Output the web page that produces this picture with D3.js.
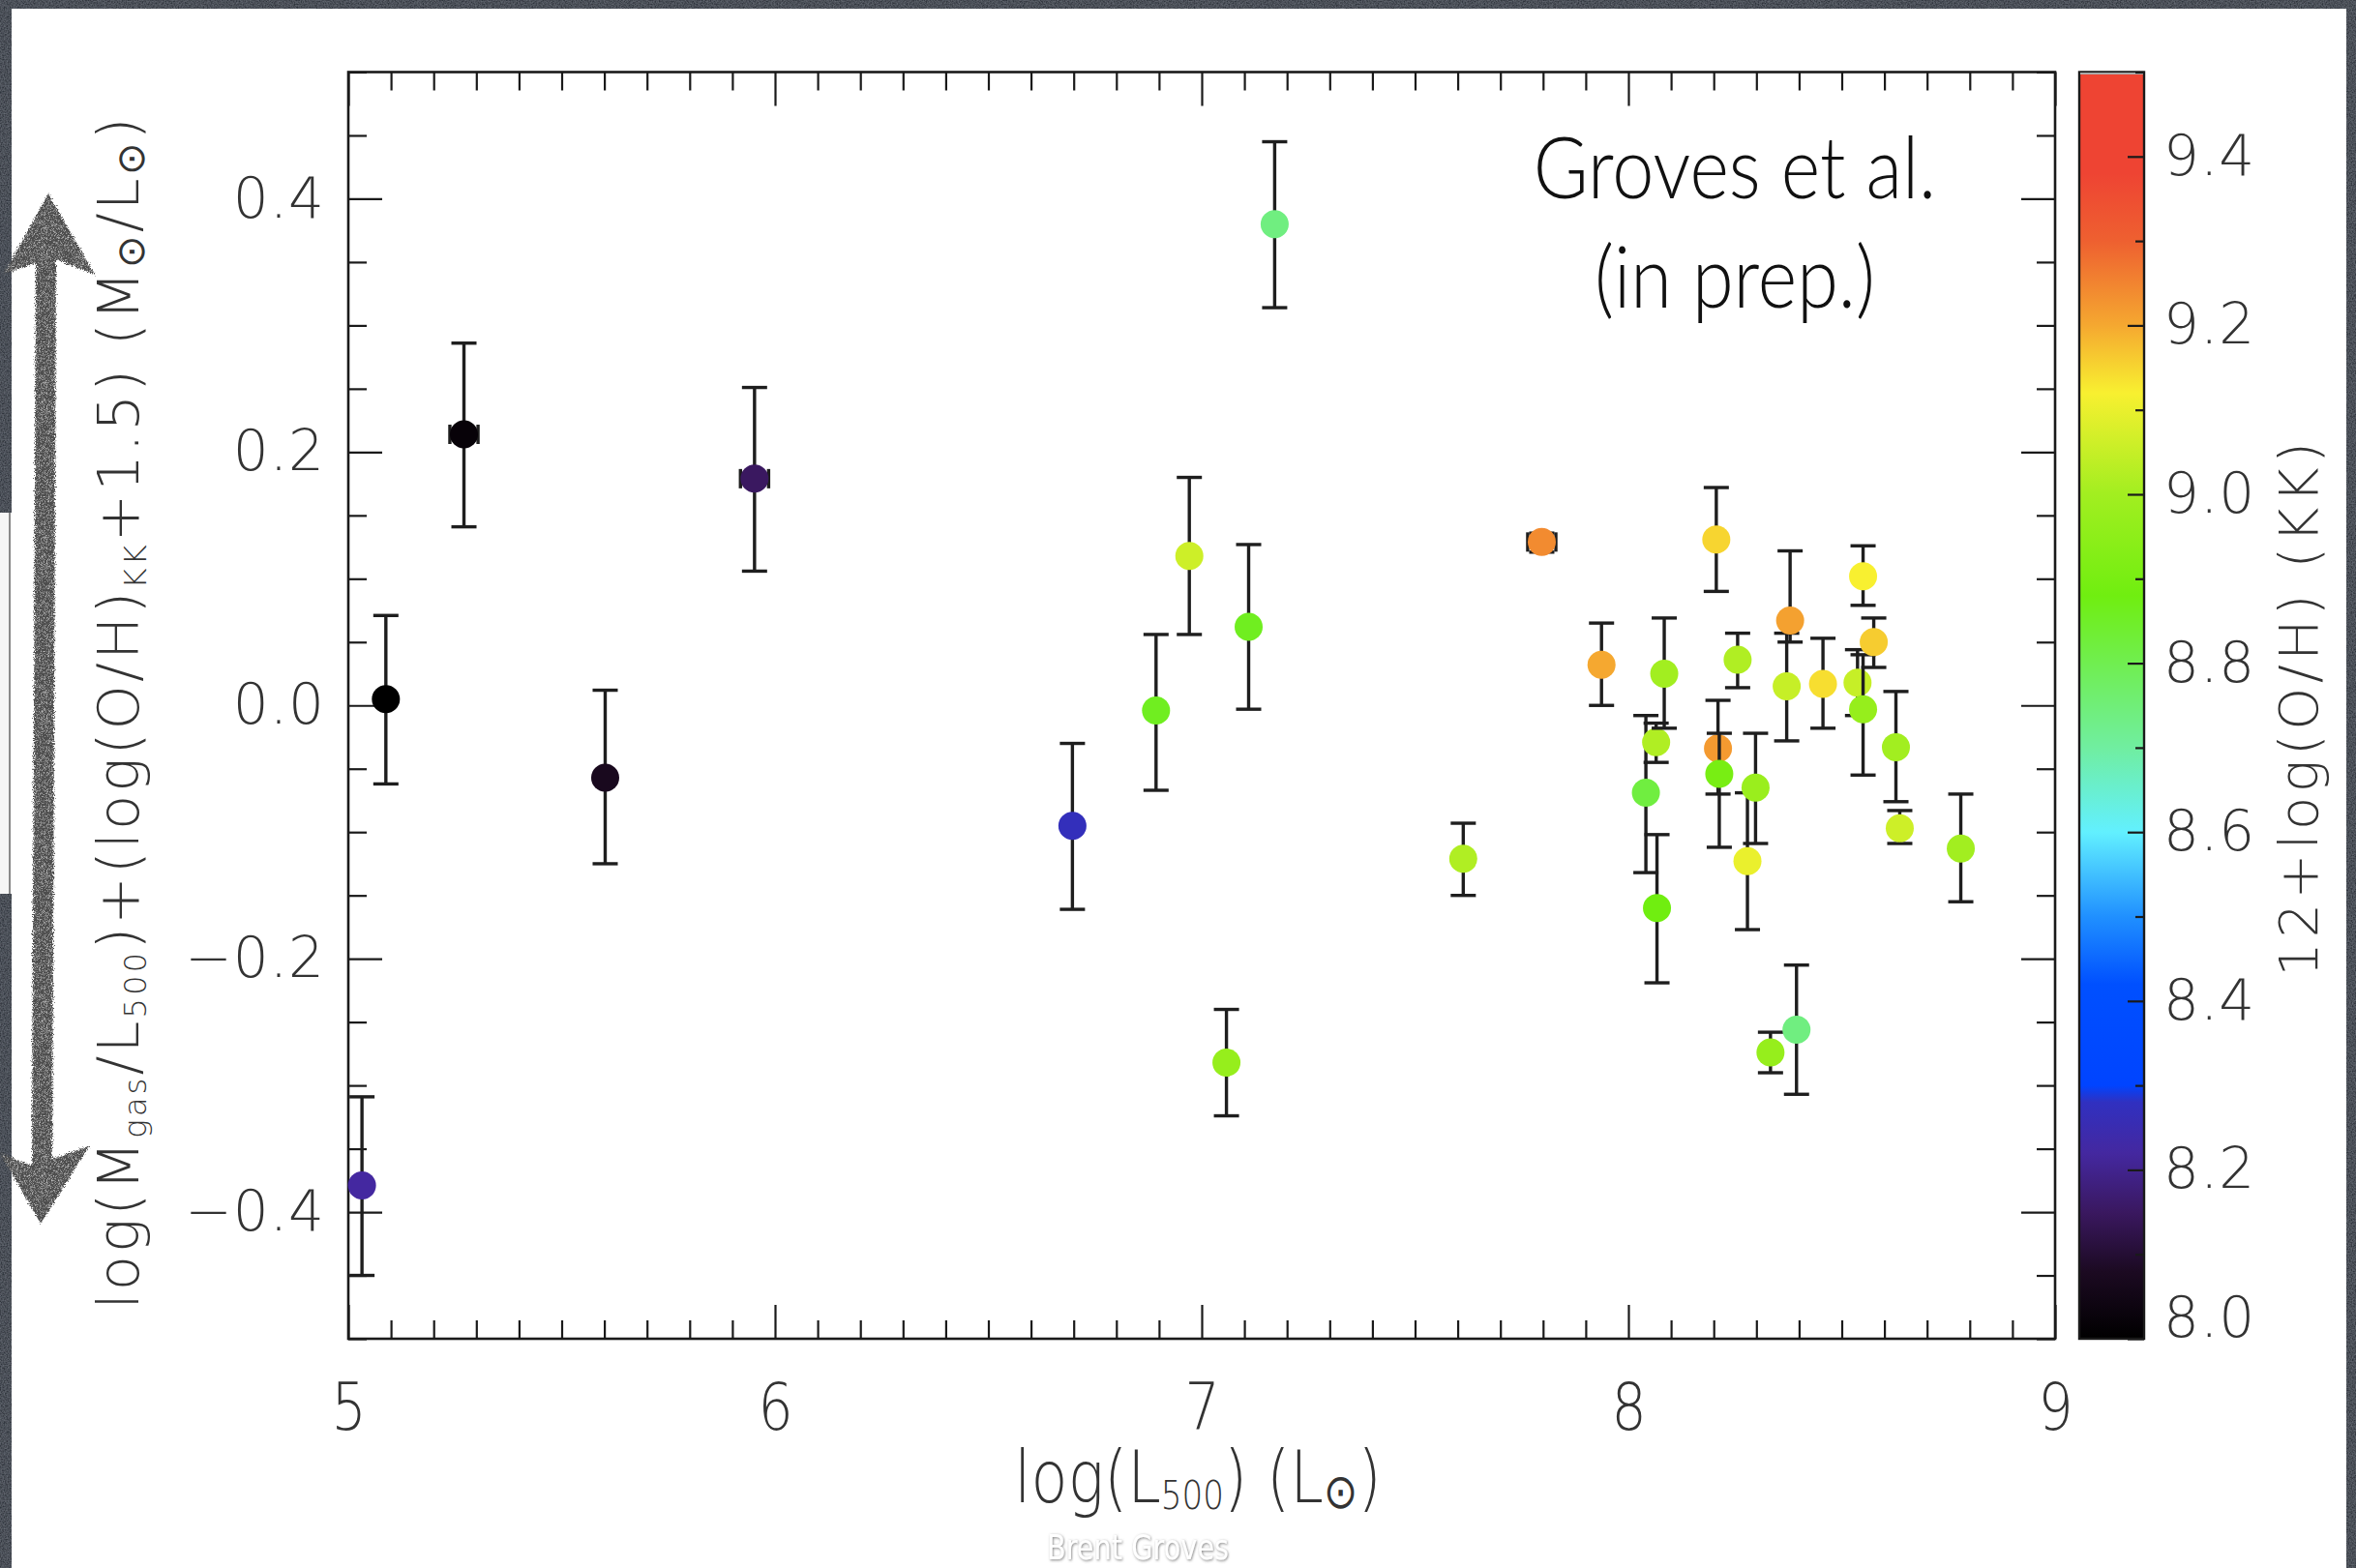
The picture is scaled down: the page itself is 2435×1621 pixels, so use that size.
<!DOCTYPE html>
<html><head><meta charset="utf-8">
<script src="https://cdn.jsdelivr.net/npm/d3@7"></script>
<style>html,body{margin:0;padding:0;background:#2e333b;overflow:hidden}</style>
</head><body>
<svg id="chart" width="2435" height="1621"></svg>
<script>
// ---------------- data ----------------
const xLum  = [5.032, 5.088, 5.271, 5.602, 5.952, 6.697, 6.893, 6.971, 7.058, 7.110, 7.171, 7.613,
               7.797, 7.937, 8.041, 8.065, 8.067, 8.084, 8.206, 8.210, 8.213, 8.256, 8.279, 8.298,
               8.333, 8.371, 8.379, 8.394, 8.456, 8.537, 8.550, 8.550, 8.575, 8.627, 8.636, 8.779];
const yVal  = [-0.379, 0.005, 0.214, -0.057, 0.179, -0.095, -0.004, 0.118, -0.282, 0.062, 0.380, -0.121,
               0.129, 0.032, -0.069, -0.029, -0.160, 0.025, 0.131, -0.034, -0.054, 0.036, -0.123, -0.065,
               -0.274, 0.015, 0.067, -0.256, 0.017, 0.018, 0.102, -0.003, 0.050, -0.033, -0.097, -0.113];
const yLow  = [-0.450, -0.062, 0.141, -0.125, 0.106, -0.161, -0.067, 0.056, -0.324, -0.003, 0.314, -0.150,
               0.121, 0.000, -0.132, -0.045, -0.219, -0.018, 0.090, -0.070, -0.112, 0.014, -0.177, -0.109,
               -0.290, -0.028, 0.050, -0.307, -0.018, -0.008, 0.079, -0.055, 0.030, -0.076, -0.109, -0.155];
const yHigh = [-0.309, 0.071, 0.286, 0.012, 0.251, -0.030, 0.056, 0.180, -0.240, 0.127, 0.445, -0.093,
               0.136, 0.065, -0.008, -0.014, -0.102, 0.069, 0.172, 0.004, -0.022, 0.057, -0.069, -0.022,
               -0.258, 0.057, 0.122, -0.205, 0.053, 0.044, 0.126, 0.040, 0.069, 0.011, -0.083, -0.070];
const xErr  = [0, 0, 0.033, 0, 0.033, 0, 0, 0, 0, 0, 0, 0,
               0.033, 0, 0, 0, 0, 0, 0, 0, 0, 0, 0, 0,
               0, 0, 0, 0, 0, 0, 0, 0, 0, 0, 0, 0];
const ohKK  = [8.22, 8.00, 8.02, 8.07, 8.15, 8.27, 8.86, 9.06, 8.97, 8.86, 8.74, 9.02,
               9.24, 9.20, 8.82, 9.02, 8.88, 9.00, 9.15, 9.22, 8.90, 9.02, 9.10, 8.98,
               8.97, 9.05, 9.21, 8.74, 9.14, 9.05, 9.12, 8.97, 9.16, 9.00, 9.06, 9.00];

const xTickLabels  = [5, 6, 7, 8, 9];
const yTickLabels  = [-0.4, -0.2, 0.0, 0.2, 0.4];
const cbTickLabels = [8.0, 8.2, 8.4, 8.6, 8.8, 9.0, 9.2, 9.4];

// colour table of the colour bar
const cmapZ     = [8.00, 8.08, 8.15, 8.22, 8.28, 8.30, 8.42, 8.50, 8.60, 8.70, 8.80, 8.88, 9.00, 9.12, 9.20, 9.30, 9.38, 9.50];
const cmapColor = ["#000000", "#1c0a22", "#3a1860", "#4428a0", "#3030c0", "#0044ff", "#0050ff", "#2090ff",
                   "#62f0ff", "#70eea0", "#70ee50", "#70ee10", "#a2ee20", "#f8f030", "#f5a830", "#ee6030",
                   "#ee4433", "#ee4433"];

// ---------------- layout ----------------
const W = 2435, H = 1621;
const P = {left: 360, right: 2124, top: 74.5, bottom: 1384};
const CB = {left: 2149, right: 2216};
const IDL_FONT = "'DejaVu Sans', sans-serif";

const svg = d3.select("#chart");
const defs = svg.append("defs");

// textures
const fN = defs.append("filter").attr("id", "slate").attr("x", 0).attr("y", 0).attr("width", 1).attr("height", 1);
fN.append("feTurbulence").attr("type", "fractalNoise").attr("baseFrequency", 0.7).attr("numOctaves", 2).attr("seed", 3).attr("result", "n");
fN.append("feColorMatrix").attr("in", "n").attr("type", "matrix")
  .attr("values", "0 0 0 0 0.20  0 0 0 0 0.22  0 0 0 0 0.26  0 0 0 0.9 -0.2").attr("result", "c");
fN.append("feComposite").attr("in", "c").attr("in2", "SourceGraphic").attr("operator", "over");

const fC = defs.append("filter").attr("id", "chalk").attr("x", -0.3).attr("y", -0.05).attr("width", 1.6).attr("height", 1.1);
fC.append("feTurbulence").attr("type", "fractalNoise").attr("baseFrequency", 0.9).attr("numOctaves", 2).attr("seed", 7).attr("result", "t");
fC.append("feDisplacementMap").attr("in", "SourceGraphic").attr("in2", "t").attr("scale", 7).attr("xChannelSelector", "R").attr("yChannelSelector", "G").attr("result", "d");
fC.append("feTurbulence").attr("type", "fractalNoise").attr("baseFrequency", 1.6).attr("numOctaves", 1).attr("seed", 2).attr("result", "s");
fC.append("feColorMatrix").attr("in", "s").attr("type", "matrix")
  .attr("values", "0 0 0 0 0.62  0 0 0 0 0.62  0 0 0 0 0.62  0 0 0 -2.6 1.35").attr("result", "spk");
fC.append("feComposite").attr("in", "spk").attr("in2", "d").attr("operator", "in").attr("result", "spk2");
const fm = fC.append("feMerge");
fm.append("feMergeNode").attr("in", "d");
fm.append("feMergeNode").attr("in", "spk2");

const fW = defs.append("filter").attr("id", "wm");
fW.append("feDropShadow").attr("dx", 1).attr("dy", 1).attr("stdDeviation", 1.5).attr("flood-color", "#777").attr("flood-opacity", 0.9);

// slide background
svg.append("rect").attr("width", W).attr("height", H).attr("fill", "#2f343c").attr("filter", "url(#slate)");
svg.append("rect").attr("x", 12).attr("y", 9).attr("width", 2413).attr("height", H - 9).attr("fill", "#ffffff");
svg.append("rect").attr("x", 0).attr("y", 530).attr("width", 12).attr("height", 394).attr("fill", "#f6f6f6");
svg.append("line").attr("x1", 10).attr("x2", 10).attr("y1", 530).attr("y2", 924).attr("stroke", "#666").attr("stroke-width", 1.5);

// ---------------- scales ----------------
const x = d3.scaleLinear().domain([5, 9]).range([P.left, P.right]);
const y = d3.scaleLinear().domain([-0.5, 0.5]).range([P.bottom, P.top]);
const cy = d3.scaleLinear().domain([8.0, 9.5]).range([P.bottom, P.top]);
const color = d3.scaleLinear().domain(cmapZ).range(cmapColor).interpolate(d3.interpolateRgb).clamp(true);

const fmt1 = d3.format(".1f");
const fmt0 = d3.format("d");

function styleAxis(g, sw) {
  g.select(".domain").remove();
  g.selectAll("line").attr("stroke", "#1a1a1a").attr("stroke-width", sw);
}

// minor / major ticks
const xMinor = d3.range(5, 9.0001, 0.1).filter(v => Math.abs(v - Math.round(v)) > 1e-6);
const yMinor = d3.range(-0.5, 0.5001, 0.05).filter(v => Math.abs(v * 5 - Math.round(v * 5)) > 1e-6);
const cbMinor = d3.range(8.1, 9.5001, 0.2);

const gAx = svg.append("g");
// bottom
gAx.append("g").attr("transform", `translate(0,${P.bottom})`)
  .call(d3.axisBottom(x).tickValues(xMinor).tickSize(-19).tickFormat(""))
  .call(g => styleAxis(g, 2.2));
const gxb = gAx.append("g").attr("transform", `translate(0,${P.bottom})`)
  .call(d3.axisBottom(x).tickValues(xTickLabels).tickSize(-35).tickPadding(46).tickFormat(fmt0))
  .call(g => styleAxis(g, 2.2));
gxb.selectAll("text").attr("font-family", IDL_FONT).attr("font-size", 67).attr("font-weight", 200)
  .attr("fill", "#333").attr("transform", "scale(0.85,1)");
// top
gAx.append("g").attr("transform", `translate(0,${P.top})`)
  .call(d3.axisTop(x).tickValues(xMinor).tickSize(-19).tickFormat(""))
  .call(g => styleAxis(g, 2.2));
gAx.append("g").attr("transform", `translate(0,${P.top})`)
  .call(d3.axisTop(x).tickValues(xTickLabels).tickSize(-35).tickFormat(""))
  .call(g => styleAxis(g, 2.2));
// left
gAx.append("g").attr("transform", `translate(${P.left},0)`)
  .call(d3.axisLeft(y).tickValues(yMinor).tickSize(-19).tickFormat(""))
  .call(g => styleAxis(g, 2.2));
const gyl = gAx.append("g").attr("transform", `translate(${P.left},0)`)
  .call(d3.axisLeft(y).tickValues(yTickLabels).tickSize(-35).tickPadding(24).tickFormat(fmt1))
  .call(g => styleAxis(g, 2.2));
gyl.selectAll("text").attr("font-family", IDL_FONT).attr("font-size", 58).attr("font-weight", 200)
  .attr("fill", "#333").attr("letter-spacing", 1);
// right
gAx.append("g").attr("transform", `translate(${P.right},0)`)
  .call(d3.axisRight(y).tickValues(yMinor).tickSize(-19).tickFormat(""))
  .call(g => styleAxis(g, 2.2));
gAx.append("g").attr("transform", `translate(${P.right},0)`)
  .call(d3.axisRight(y).tickValues(yTickLabels).tickSize(-35).tickFormat(""))
  .call(g => styleAxis(g, 2.2));

// frame
svg.append("rect").attr("x", P.left).attr("y", P.top).attr("width", P.right - P.left).attr("height", P.bottom - P.top)
  .attr("fill", "none").attr("stroke", "#1a1a1a").attr("stroke-width", 2.6);

// ---------------- data marks ----------------
const data = xLum.map((v, i) => ({x: v, y: yVal[i], lo: yLow[i], hi: yHigh[i], xe: xErr[i], z: ohKK[i]}));
const CAP = 13;
const gPts = svg.append("g");
data.forEach(d => {
  const g = gPts.append("g");
  const px = x(d.x);
  g.append("line").attr("x1", px).attr("x2", px).attr("y1", y(d.lo)).attr("y2", y(d.hi));
  g.append("line").attr("x1", px - CAP).attr("x2", px + CAP).attr("y1", y(d.lo)).attr("y2", y(d.lo));
  g.append("line").attr("x1", px - CAP).attr("x2", px + CAP).attr("y1", y(d.hi)).attr("y2", y(d.hi));
  if (d.xe > 0) {
    const py = y(d.y);
    g.append("line").attr("x1", x(d.x - d.xe)).attr("x2", x(d.x + d.xe)).attr("y1", py).attr("y2", py);
    g.append("line").attr("x1", x(d.x - d.xe)).attr("x2", x(d.x - d.xe)).attr("y1", py - 10).attr("y2", py + 10);
    g.append("line").attr("x1", x(d.x + d.xe)).attr("x2", x(d.x + d.xe)).attr("y1", py - 10).attr("y2", py + 10);
  }
  g.selectAll("line").attr("stroke", "#1e1e1e").attr("stroke-width", 3.4);
  g.append("circle").attr("cx", px).attr("cy", y(d.y)).attr("r", 14.5).attr("fill", color(d.z));
});

// ---------------- colour bar ----------------
const grad = defs.append("linearGradient").attr("id", "cbar").attr("x1", 0).attr("y1", 1).attr("x2", 0).attr("y2", 0);
cmapZ.forEach((z, i) => grad.append("stop").attr("offset", (z - 8.0) / 1.5).attr("stop-color", cmapColor[i]));
svg.append("rect").attr("x", CB.left).attr("y", P.top).attr("width", CB.right - CB.left).attr("height", P.bottom - P.top)
  .attr("fill", "url(#cbar)").attr("stroke", "#1a1a1a").attr("stroke-width", 2.4);
svg.append("line").attr("x1", CB.left + 1).attr("x2", CB.right - 1).attr("y1", P.top + 1.5).attr("y2", P.top + 1.5)
  .attr("stroke", "#aaa").attr("stroke-width", 2);
svg.append("g").attr("transform", `translate(${CB.right},0)`)
  .call(d3.axisRight(cy).tickValues(cbMinor).tickSize(-9).tickFormat(""))
  .call(g => styleAxis(g, 2.2));
const gcb = svg.append("g").attr("transform", `translate(${CB.right},0)`)
  .call(d3.axisRight(cy).tickValues(cbTickLabels).tickSize(-17).tickPadding(20).tickFormat(fmt1))
  .call(g => styleAxis(g, 2.2));
gcb.selectAll("text").attr("font-family", IDL_FONT).attr("font-size", 58).attr("font-weight", 200)
  .attr("fill", "#333").attr("letter-spacing", 1)
  .attr("dy", d => d === 8.0 ? "-0.05em" : "0.32em");

// ---------------- titles ----------------
// parts: plain strings or {s, dy, k} subscripts; the baseline is restored on the following tspan
function richText(sel, parts) {
  let pending = 0;
  parts.forEach(p => {
    if (typeof p === "string") {
      const t = sel.append("tspan").text(p);
      if (pending) t.attr("dy", pending + "em");
      pending = 0;
    } else {
      sel.append("tspan").attr("font-size", p.k + "em").attr("dy", (p.dy / p.k) + "em").text(p.s);
      pending = -p.dy;
    }
  });
}

// y axis title
const yt = svg.append("text").attr("transform", "translate(143,736) rotate(-90)")
  .attr("text-anchor", "middle").attr("font-family", IDL_FONT).attr("font-size", 59).attr("font-weight", 200)
  .attr("fill", "#333").attr("letter-spacing", 3);
richText(yt, ["log(M", {s: "gas", dy: 0.14, k: 0.55}, "/L", {s: "500", dy: 0.14, k: 0.55}, ")+(log(O/H)",
              {s: "KK", dy: 0.14, k: 0.55}, "+1.5)  (M", {s: "\u2299", dy: 0.1, k: 0.68}, "/L",
              {s: "\u2299", dy: 0.1, k: 0.68}, ")"]);

// x axis title
const xt = svg.append("text").attr("transform", "translate(1238,1553) scale(0.84,1)")
  .attr("text-anchor", "middle").attr("font-family", IDL_FONT).attr("font-size", 74).attr("font-weight", 200)
  .attr("fill", "#333");
richText(xt, ["log(L", {s: "500", dy: 0.1, k: 0.55}, ")  (L", {s: "\u2299", dy: 0.08, k: 0.68}, ")"]);

// annotation
const ann = svg.append("g").attr("transform", "translate(1793,0) scale(0.88,1)")
  .attr("font-family", "Lato, 'Open Sans', sans-serif").attr("font-size", 88).attr("font-weight", 300)
  .attr("fill", "#111").attr("text-anchor", "middle");
ann.append("text").attr("y", 205).text("Groves et al.");
ann.append("text").attr("y", 318).text("(in prep.)");

// colour bar title
svg.append("text").attr("transform", "translate(2395,731) rotate(-90)")
  .attr("text-anchor", "middle").attr("font-family", IDL_FONT).attr("font-size", 56).attr("font-weight", 200)
  .attr("fill", "#333").attr("letter-spacing", 4.5)
  .text("12+log(O/H)  (KK)");

// watermark
svg.append("text").attr("transform", "translate(1176,1612) scale(0.8,1)").attr("text-anchor", "middle")
  .attr("font-family", IDL_FONT).attr("font-size", 36).attr("fill", "#ffffff").attr("filter", "url(#wm)")
  .text("Brent Groves");

// ---------------- chalk double arrow ----------------
const arrow = "M50,200 L98,284 L58,268 L54,1198 L92,1185 L42,1265 L0,1192 L33,1205 L37,272 L4,283 Z";
svg.append("path").attr("d", arrow).attr("fill", "#4e4e4e").attr("filter", "url(#chalk)");
</script>
</body></html>
